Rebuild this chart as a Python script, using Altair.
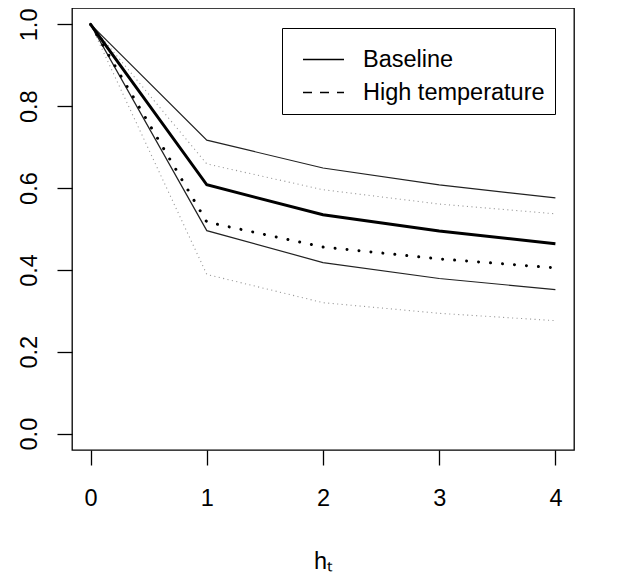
import altair as alt
import pandas as pd

h = [0, 1, 2, 3, 4]
base_mean = [1.0, 0.608, 0.535, 0.495, 0.464]
base_upper = [1.0, 0.717, 0.649, 0.608, 0.576]
base_lower = [1.0, 0.496, 0.418, 0.379, 0.352]
ht_mean = [1.0, 0.517, 0.456, 0.427, 0.405]
ht_upper = [1.0, 0.659, 0.596, 0.561, 0.537]
ht_lower = [1.0, 0.389, 0.320, 0.294, 0.276]
legend_labels = ["Baseline", "High temperature"]
x_ticks = [0, 1, 2, 3, 4]
y_ticks = [0.0, 0.2, 0.4, 0.6, 0.8, 1.0]

series = {
    "base_mean": base_mean, "base_upper": base_upper, "base_lower": base_lower,
    "ht_mean": ht_mean, "ht_upper": ht_upper, "ht_lower": ht_lower,
}
rows = []
for name, vals in series.items():
    for hv, v in zip(h, vals):
        rows.append({"h": hv, "v": v, "series": name})
df = pd.DataFrame(rows)

FONT = "Liberation Sans"
FS = 23.5

x_enc = alt.X("h:Q", scale=alt.Scale(domain=[-0.16, 4.16], nice=False, zero=False),
              axis=alt.Axis(values=x_ticks, format="d", title="hₜ", labelPadding=21,
                            titlePadding=40, labelAngle=0))
y_enc = alt.Y("v:Q", scale=alt.Scale(domain=[-0.04, 1.04], nice=False, zero=False),
              axis=alt.Axis(values=y_ticks, format=".1f", title=None, labelAngle=270,
                            labelAlign="center", labelBaseline="bottom", labelPadding=16))

base = alt.Chart(df).encode(x=x_enc, y=y_enc, detail="series:N")

def sel(names):
    return alt.FieldOneOfPredicate(field="series", oneOf=names)

l_base_mean = base.transform_filter(sel(["base_mean"])).mark_line(color="black", strokeWidth=3)
l_base_bounds = base.transform_filter(sel(["base_upper", "base_lower"])).mark_line(color="#222222", strokeWidth=1.2)
l_ht_mean = base.transform_filter(sel(["ht_mean"])).mark_line(
    color="black", strokeWidth=3, strokeDash=[0.01, 12], strokeCap="round")
l_ht_bounds = base.transform_filter(sel(["ht_upper", "ht_lower"])).mark_line(
    color="#999999", strokeWidth=1.1, strokeDash=[1.1, 3.4])

leg_df = pd.DataFrame({"h": [0, 0], "v": [1.0, 1.0], "lab": legend_labels})
l_legend = alt.Chart(leg_df).mark_line(color="black", strokeWidth=1.5).encode(
    x=x_enc, y=y_enc,
    strokeDash=alt.StrokeDash(
        "lab:N",
        scale=alt.Scale(domain=legend_labels, range=[[1, 0], [9, 8]]),
        legend=alt.Legend(
            title=None, orient="none", legendX=210, legendY=20,
            strokeColor="black", fillColor="white", padding=10, symbolOffset=10,
            symbolType="stroke", symbolSize=1681, symbolStrokeWidth=1.5,
            symbolStrokeColor="black", labelFontSize=FS, labelFont=FONT,
            labelColor="black", labelOffset=18, rowPadding=-1, cornerRadius=0,
            labelLimit=400,
        ),
    ),
)

chart = alt.layer(l_ht_bounds, l_base_bounds, l_ht_mean, l_base_mean, l_legend).properties(
    width=502, height=442,
    autosize=alt.AutoSizeParams(type="none"),
    padding={"left": 64, "top": 0, "right": 30, "bottom": 131},
    background="white",
).configure_view(stroke="black", strokeWidth=1.3).configure_axis(
    domain=False, grid=False, tickColor="black", tickSize=15, tickWidth=1.3,
    labelFont=FONT, labelFontSize=FS, labelColor="black",
    titleFont=FONT, titleFontSize=FS, titleFontWeight="normal", titleColor="black",
)

chart.save("out.html", embed_options={"renderer": "svg", "actions": False})
